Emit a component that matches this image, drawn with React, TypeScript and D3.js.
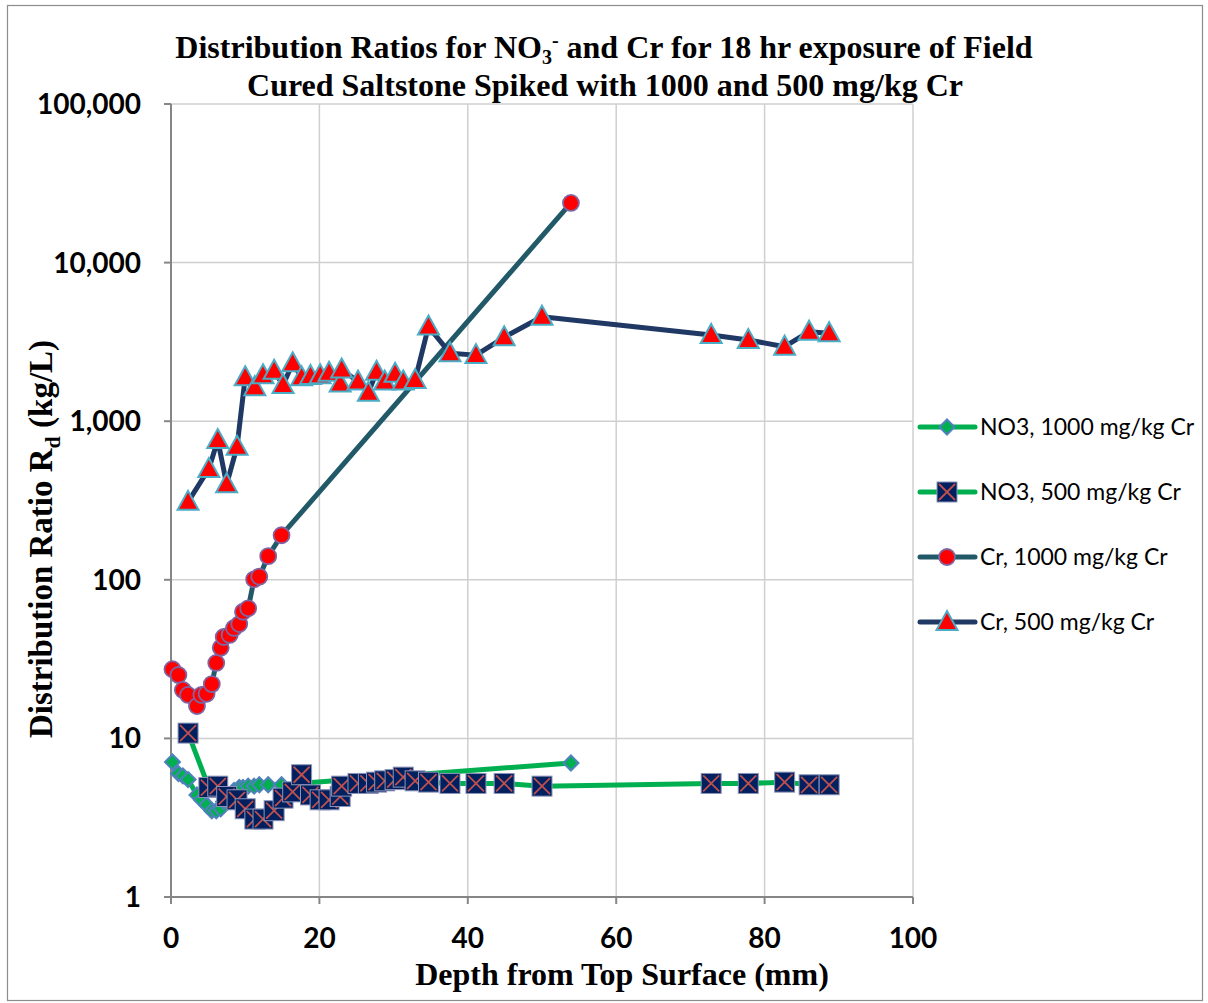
import React from "react";
import * as d3 from "d3";

// depths (mm) for the 1000 mg/kg Cr core
const depth1000 = [0.2, 1.0, 1.6, 2.3, 3.5, 4.1, 4.8, 5.5, 6.1, 6.7, 7.1, 7.9, 8.5, 9.2, 9.7, 10.4, 11.2, 11.9, 13.1, 14.9, 53.9];
const no3_1000 = [7.1, 6.0, 5.8, 5.5, 4.4, 4.1, 3.8, 3.5, 3.5, 3.6, 4.0, 4.4, 4.7, 4.9, 4.9, 5.0, 5.0, 5.1, 5.1, 5.1, 7.0];
const cr_1000 = [27.3, 25.1, 20.2, 18.8, 16.0, 18.8, 19.1, 22.0, 29.9, 37.3, 43.6, 44.9, 49.7, 52.6, 62.9, 66.1, 100.7, 104.7, 141, 191, 23770];

// depths (mm) for the 500 mg/kg Cr core
const depth500 = [2.3, 5.1, 6.3, 7.5, 8.9, 10.0, 11.3, 12.4, 13.9, 15.1, 16.4, 17.6, 18.8, 20.1, 21.3, 22.8, 23.0, 25.2, 26.6, 27.7, 28.8, 30.2, 31.3, 32.9, 34.7, 37.6, 41.1, 44.9, 50.0, 72.8, 77.8, 82.7, 86.0, 88.7];
const no3_500 = [10.8, 4.9, 5.0, 4.3, 4.1, 3.6, 3.1, 3.1, 3.5, 4.2, 4.6, 5.9, 4.4, 4.1, 4.1, 4.3, 5.0, 5.2, 5.2, 5.3, 5.4, 5.5, 5.7, 5.4, 5.3, 5.2, 5.2, 5.2, 5.0, 5.2, 5.2, 5.3, 5.1, 5.1];
const cr_500 = [310, 500, 760, 400, 690, 1890, 1640, 1950, 2080, 1690, 2320, 1890, 1930, 1950, 2020, 1730, 2120, 1780, 1510, 2050, 1780, 1990, 1780, 1820, 3950, 2680, 2610, 3380, 4560, 3500, 3250, 2950, 3670, 3590];

const xTicks = [0, 20, 40, 60, 80, 100];
const yTicks = [1, 10, 100, 1000, 10000, 100000];
const legendLabels = ["NO3, 1000 mg/kg Cr", "NO3, 500 mg/kg Cr", "Cr, 1000 mg/kg Cr", "Cr, 500 mg/kg Cr"];

const W = 1208, H = 1003;
const x = d3.scaleLinear().domain([0, 100]).range([171, 913]);
const y = d3.scaleLog().domain([1, 100000]).range([897, 104]);

const GREEN = "#00b050";
const TEAL = "#215968";
const NAVY = "#1f3864";

type Kind = "diamond" | "square" | "circle" | "triangle";

const Marker = ({ kind, cx, cy }: { kind: Kind; cx: number; cy: number }) => {
  if (kind === "diamond") {
    const s = 7.5;
    return <path d={`M${cx},${cy - s}L${cx + s},${cy}L${cx},${cy + s}L${cx - s},${cy}Z`} fill={GREEN} stroke="#4f81bd" strokeWidth={2} />;
  }
  if (kind === "square") {
    const s = 10;
    return (
      <g>
        <rect x={cx - s} y={cy - s} width={2 * s} height={2 * s} fill="#002060" stroke="#8e94b8" strokeWidth={1} />
        <path d={`M${cx - s + 2},${cy - s + 2}L${cx + s - 2},${cy + s - 2}M${cx + s - 2},${cy - s + 2}L${cx - s + 2},${cy + s - 2}`} stroke="#c0504d" strokeWidth={1.8} />
      </g>
    );
  }
  if (kind === "circle") {
    return <circle cx={cx} cy={cy} r={8} fill="#ff0000" stroke="#8064a2" strokeWidth={1.8} />;
  }
  return <path d={`M${cx},${cy - 11}L${cx + 10.5},${cy + 8}L${cx - 10.5},${cy + 8}Z`} fill="#ff0000" stroke="#4bacc6" strokeWidth={2} />;
};

const series = [
  { xs: depth1000, ys: no3_1000, color: GREEN, kind: "diamond" as Kind },
  { xs: depth500, ys: no3_500, color: GREEN, kind: "square" as Kind },
  { xs: depth1000, ys: cr_1000, color: TEAL, kind: "circle" as Kind },
  { xs: depth500, ys: cr_500, color: NAVY, kind: "triangle" as Kind },
];

const line = d3.line<[number, number]>().x((d) => x(d[0])).y((d) => y(d[1]));
const fmt = d3.format(",");

export default function App() {
  return (
    <svg width={W} height={H} style={{ position: "absolute", left: 0, top: 0, background: "#fff" }}>
      <rect x={7.5} y={5.5} width={1195} height={995} fill="#fff" stroke="#8c8c8c" strokeWidth={1.2} />

      {/* gridlines */}
      {xTicks.slice(1).map((t) => (
        <line key={"gx" + t} x1={x(t)} x2={x(t)} y1={y(100000)} y2={y(1)} stroke="#cfcfcf" strokeWidth={1.5} />
      ))}
      {yTicks.slice(1).map((t) => (
        <line key={"gy" + t} x1={x(0)} x2={x(100)} y1={y(t)} y2={y(t)} stroke="#cfcfcf" strokeWidth={1.5} />
      ))}

      {/* axes */}
      <line x1={x(0)} x2={x(0)} y1={y(100000)} y2={y(1)} stroke="#868686" strokeWidth={2} />
      <line x1={x(0)} x2={x(100)} y1={y(1)} y2={y(1)} stroke="#868686" strokeWidth={2} />
      {yTicks.map((t) => (
        <line key={"ty" + t} x1={x(0) - 7} x2={x(0)} y1={y(t)} y2={y(t)} stroke="#868686" strokeWidth={2} />
      ))}
      {xTicks.map((t) => (
        <line key={"tx" + t} x1={x(t)} x2={x(t)} y1={y(1)} y2={y(1) + 7} stroke="#868686" strokeWidth={2} />
      ))}

      {yTicks.map((t) => (
        <text key={"ly" + t} x={141} y={y(t)} dy="0.36em" textAnchor="end" fontFamily="Lato" fontWeight="bold" fontSize={28}>
          {fmt(t)}
        </text>
      ))}
      {xTicks.map((t) => (
        <text key={"lx" + t} x={x(t)} y={948} textAnchor="middle" fontFamily="Lato" fontWeight="bold" fontSize={28}>
          {t}
        </text>
      ))}

      {/* series */}
      {series.map((s, i) => (
        <g key={"s" + i}>
          <path d={line(s.xs.map((d, j) => [d, s.ys[j]] as [number, number])) || ""} fill="none" stroke={s.color} strokeWidth={5} strokeLinejoin="round" />
          {s.xs.map((d, j) => (
            <Marker key={j} kind={s.kind} cx={x(d)} cy={y(s.ys[j])} />
          ))}
        </g>
      ))}

      {/* legend */}
      {series.map((s, i) => {
        const ly = 427 + i * 65;
        return (
          <g key={"lg" + i}>
            <line x1={920} x2={975} y1={ly} y2={ly} stroke={s.color} strokeWidth={5} strokeLinecap="round" />
            <Marker kind={s.kind} cx={947} cy={ly} />
            <text x={980} y={ly} dy="0.36em" fontFamily="Lato" fontSize={23}>
              {legendLabels[i]}
            </text>
          </g>
        );
      })}

      {/* title */}
      <text x={604} y={58} textAnchor="middle" fontFamily="Liberation Serif" fontWeight="bold" fontSize={32}>
        Distribution Ratios for NO
        <tspan dy={6} fontSize={20}>3</tspan>
        <tspan dy={-17} fontSize={20}>-</tspan>
        <tspan dy={11}> and Cr for 18 hr exposure of Field</tspan>
      </text>
      <text x={605} y={96} textAnchor="middle" fontFamily="Liberation Serif" fontWeight="bold" fontSize={32}>
        Cured Saltstone Spiked with 1000 and 500 mg/kg Cr
      </text>

      {/* axis titles */}
      <text x={622} y={985} textAnchor="middle" fontFamily="Liberation Serif" fontWeight="bold" fontSize={32}>
        Depth from Top Surface (mm)
      </text>
      <text transform="translate(52,539) rotate(-90)" textAnchor="middle" fontFamily="Liberation Serif" fontWeight="bold" fontSize={33}>
        Distribution Ratio R
        <tspan dy={8} fontSize={22}>d</tspan>
        <tspan dy={-8}> (kg/L)</tspan>
      </text>
    </svg>
  );
}
